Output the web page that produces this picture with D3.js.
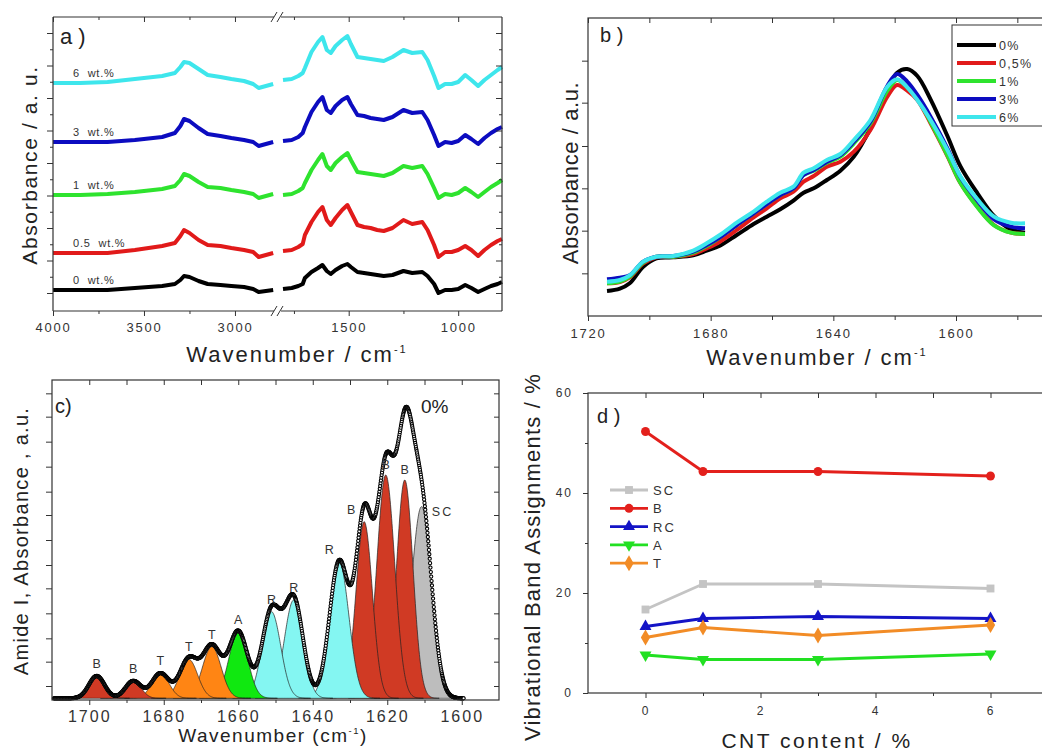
<!DOCTYPE html>
<meta charset="utf-8">
<style>
body { margin: 0; background: #fff; }
svg { display: block; }
</style>
<body>
<svg width="1042" height="754"></svg>
<script src="https://cdn.jsdelivr.net/npm/d3@7"></script>
<script>
// ---------------- data: a) full FTIR spectra (offset, arbitrary units) ----------------
var aLeftWn = [4000, 3850, 3700, 3550, 3400, 3330, 3300, 3280, 3250, 3200, 3150, 3080, 3020, 2950, 2900, 2870, 2830, 2790];
var aRightWn = [1800, 1760, 1730, 1710, 1700, 1670, 1640, 1620, 1600, 1582, 1560, 1530, 1506, 1490, 1460, 1430, 1400, 1370, 1340, 1300,
                1250, 1210, 1164, 1140, 1110, 1090, 1060, 1030, 1000, 968, 940, 909, 880, 850, 820, 800];
var aLabels = ["0  wt.%", "0.5  wt.%", "1  wt.%", "3  wt.%", "6  wt.%"];

var aLeft0 = [2.1, 2.1, 2.1, 2.3, 2.5, 2.7, 3.1, 3.5, 3.4, 3.0, 2.7, 2.6, 2.5, 2.4, 2.2, 1.9, 2.0, 2.1];
var aLeft05 = [5.8, 5.8, 5.8, 6.1, 6.5, 6.8, 7.5, 8.1, 7.8, 7.1, 6.6, 6.5, 6.3, 6.1, 5.9, 5.4, 5.6, 5.8];
var aLeft1 = [11.6, 11.6, 11.7, 11.9, 12.2, 12.5, 13.1, 13.7, 13.5, 12.9, 12.4, 12.3, 12.1, 11.9, 11.7, 11.3, 11.5, 11.7];
var aLeft3 = [16.9, 16.9, 16.9, 17.1, 17.4, 17.8, 18.5, 19.2, 19.0, 18.3, 17.7, 17.5, 17.3, 17.1, 16.9, 16.5, 16.7, 16.9];
var aLeft6 = [22.8, 22.8, 22.9, 23.2, 23.5, 23.8, 24.4, 24.9, 24.8, 24.2, 23.6, 23.4, 23.2, 23.0, 22.7, 22.3, 22.5, 22.7];

var aRight0 = [2.2, 2.3, 2.5, 2.7, 3.3, 3.9, 4.3, 4.6, 4.0, 3.7, 4.1, 4.5, 4.7, 4.4, 3.9, 3.8, 3.7, 3.6, 3.5, 3.6,
               4.0, 3.8, 3.9, 3.5, 2.7, 1.8, 2.1, 2.1, 2.2, 2.6, 2.3, 1.9, 2.2, 2.5, 2.7, 2.9];
var aRight05 = [6.0, 6.1, 6.4, 6.7, 7.6, 8.9, 9.9, 10.4, 9.1, 8.6, 9.3, 10.1, 10.6, 9.9, 8.6, 8.4, 8.3, 8.1, 8.0, 8.3,
                9.1, 8.7, 8.9, 8.1, 6.6, 5.4, 5.9, 5.9, 6.1, 6.5, 6.1, 5.5, 6.1, 6.6, 7.0, 7.2];
var aRight1 = [11.6, 11.7, 12.0, 12.3, 12.8, 14.1, 15.1, 15.7, 14.5, 14.1, 14.8, 15.4, 15.8, 15.1, 13.9, 13.8, 13.7, 13.6, 13.5, 13.8,
               14.5, 14.3, 14.5, 13.7, 12.3, 11.3, 11.7, 11.6, 11.8, 12.3, 11.9, 11.4, 11.9, 12.4, 12.8, 13.1];
var aRight3 = [17.0, 17.1, 17.4, 17.8, 18.4, 19.9, 20.9, 21.4, 20.1, 19.8, 20.5, 21.1, 21.4, 20.7, 19.6, 19.5, 19.3, 19.2, 19.1, 19.4,
               20.1, 19.8, 19.9, 19.1, 17.6, 16.5, 16.9, 16.8, 17.0, 17.6, 17.2, 16.7, 17.3, 17.8, 18.2, 18.4];
var aRight6 = [23.1, 23.2, 23.5, 23.8, 24.3, 25.9, 26.9, 27.4, 26.1, 25.8, 26.5, 27.1, 27.5, 26.7, 25.4, 25.3, 25.2, 25.1, 25.0, 25.4,
               26.1, 25.8, 25.9, 25.1, 23.5, 22.3, 22.7, 22.7, 22.9, 23.6, 23.1, 22.5, 23.1, 23.6, 24.1, 24.4];

var aXMajorL = [4000, 3500, 3000], aXMinorL = [3750, 3250];
var aXMajorR = [1500, 1000], aXMinorR = [1750, 1250];
var aYMajor = [1.8, 5.05, 8.3, 11.55, 14.8, 18.05, 21.3, 24.55, 27.8];
var aYMinor = [3.425, 6.675, 9.925, 13.175, 16.425, 19.675, 22.925, 26.175];

// ---------------- data: b) amide I region ----------------
var bWn = [1713.8, 1709.6, 1706.4, 1702.0, 1697.7, 1692.2, 1685.7, 1681.3, 1677.0, 1671.5, 1666.0, 1661.7, 1657.3, 1653.0, 1649.7, 1646.4,
           1642.1, 1637.7, 1633.3, 1627.9, 1622.4, 1619.2, 1615.9, 1612.6, 1608.3, 1602.8, 1598.5, 1593.0, 1587.6, 1582.1, 1577.5];
var bLabels = ["0%", "0,5%", "1%", "3%", "6%"];
var b0 = [0.75, 0.82, 0.98, 1.48, 1.73, 1.76, 1.82, 1.96, 2.11, 2.43, 2.76, 2.98, 3.20, 3.46, 3.70, 3.83,
          4.08, 4.36, 4.78, 5.63, 6.76, 7.30, 7.41, 7.20, 6.50, 5.40, 4.48, 3.68, 3.00, 2.60, 2.50];
var b05 = [0.98, 1.02, 1.16, 1.58, 1.76, 1.78, 1.86, 2.03, 2.23, 2.58, 2.96, 3.23, 3.53, 3.73, 4.03, 4.20,
           4.48, 4.63, 4.93, 5.58, 6.58, 6.93, 6.76, 6.48, 5.78, 4.80, 3.98, 3.28, 2.73, 2.50, 2.46];
var b1 = [0.98, 1.03, 1.18, 1.60, 1.78, 1.78, 1.90, 2.10, 2.36, 2.73, 3.08, 3.36, 3.63, 3.83, 4.23, 4.36,
          4.60, 4.78, 5.18, 5.78, 6.76, 7.08, 6.86, 6.52, 5.82, 4.82, 3.98, 3.26, 2.72, 2.50, 2.46];
var b3 = [1.10, 1.15, 1.22, 1.63, 1.78, 1.80, 1.93, 2.13, 2.36, 2.73, 3.08, 3.36, 3.63, 3.83, 4.23, 4.38,
          4.63, 4.83, 5.23, 5.83, 6.90, 7.26, 7.03, 6.63, 5.98, 5.03, 4.16, 3.46, 2.90, 2.68, 2.63];
var b6 = [1.03, 1.08, 1.22, 1.63, 1.78, 1.80, 1.96, 2.18, 2.43, 2.80, 3.13, 3.43, 3.70, 3.88, 4.30, 4.43,
          4.68, 4.86, 5.28, 5.88, 6.88, 7.10, 6.86, 6.48, 5.88, 4.98, 4.18, 3.50, 2.98, 2.80, 2.78];
var bXMajor = [1720, 1680, 1640, 1600], bXMinor = [1700, 1660, 1620, 1580];
var bYTicks = [1.28, 2.56, 3.83, 5.1, 6.4, 7.66];

// ---------------- data: c) band fit of 0% sample ----------------
var cCenters = [1698, 1688.2, 1680.9, 1673.3, 1667.1, 1660, 1651.1, 1645.1, 1632.9, 1626.2, 1620.4, 1615.3, 1610.8];
var cHeights = [0.67, 0.52, 0.75, 1.17, 1.55, 2.0, 2.6, 2.95, 4.1, 5.3, 6.7, 6.55, 5.75];
var cSigmas = [2.1, 2.1, 2.3, 2.4, 2.5, 2.5, 2.5, 2.5, 2.6, 2.2, 2.4, 2.2, 2.7];
var cBands = ["B", "B", "T", "T", "T", "A", "R", "R", "R", "B", "B", "B", "SC"];
var cXMajor = [1700, 1680, 1660, 1640, 1620, 1600], cXMinor = [1690, 1670, 1650, 1630, 1610];
var cYTicks = [0.37, 1.1, 1.8, 2.55, 3.3, 4.0, 4.75, 5.5, 6.2, 6.95, 7.7, 8.45, 9.15];

// ---------------- data: d) band assignments vs CNT content ----------------
var dX = [0, 1, 3, 6];
var dNames = ["SC", "B", "RC", "A", "T"];
var dSC = [16.7, 21.8, 21.8, 20.9];
var dB = [52.3, 44.3, 44.3, 43.4];
var dRC = [13.3, 14.9, 15.3, 14.9];
var dA = [7.6, 6.7, 6.7, 7.8];
var dT = [11.1, 13.1, 11.5, 13.6];
var dXMajor = [0, 2, 4, 6], dXMinor = [1, 3, 5];
var dYMajor = [0, 20, 40, 60], dYMinor = [10, 30, 50];

// ---------------- styles ----------------
var FONT = "'Liberation Sans', Arial, Helvetica, sans-serif";
var specColors = ["#000000", "#e11a1a", "#2ee32e", "#0c0cc0", "#3ee6ec"];
var bandColors = { B: "#d03a24", T: "#ff8514", A: "#10e810", R: "#84f6f2", SC: "#bdbdbd" };
var dColors = ["#c4c4c4", "#e3201c", "#1414c6", "#22e022", "#f28c26"];
var dSymbols = [d3.symbolSquare, d3.symbolCircle, d3.symbolTriangle, d3.symbolTriangle, d3.symbolDiamond];

var svg = d3.select("svg");
svg.append("rect").attr("width", 1042).attr("height", 754).attr("fill", "#fff");

function drawAxis(gen, scale, vals, len, fmt, tx, ty, fs, ls, pad) {
  var a = gen(scale).tickValues(vals).tickSizeInner(len).tickSizeOuter(0)
    .tickPadding(pad || 3).tickFormat(fmt || function() { return ""; });
  var g = svg.append("g").attr("transform", "translate(" + tx + "," + ty + ")").call(a);
  g.select(".domain").remove();
  g.selectAll(".tick line").attr("stroke", "#333").attr("stroke-width", 1);
  g.selectAll(".tick text").attr("fill", "#333").attr("font-family", FONT)
    .attr("font-size", fs || 12).attr("letter-spacing", ls || 0);
  return g;
}

function text(x, y, s, size, opts) {
  opts = opts || {};
  var t = svg.append("text").attr("x", x).attr("y", y).text(s)
    .attr("font-family", FONT).attr("font-size", size)
    .attr("fill", opts.fill || "#222")
    .attr("letter-spacing", opts.ls || 0)
    .attr("text-anchor", opts.anchor || "start")
    .style("white-space", "pre");
  if (opts.rotate) t.attr("transform", "rotate(-90," + x + "," + y + ")");
  return t;
}

function titleSup(x, y, main, sup, tail, size, ls) {
  var t = svg.append("text").attr("x", x).attr("y", y)
    .attr("font-family", FONT).attr("font-size", size).attr("fill", "#222")
    .attr("letter-spacing", ls).attr("text-anchor", "middle");
  t.append("tspan").text(main);
  t.append("tspan").text(sup).attr("font-size", size * 0.5).attr("dy", -size * 0.42);
  if (tail) t.append("tspan").text(tail).attr("dy", size * 0.42);
  return t;
}

// ====================== panel a ======================
var axL = d3.scaleLinear().domain([4000, 2780]).range([53, 275]);
var axR = d3.scaleLinear().domain([1800, 800]).range([283, 502]);
var ay = d3.scaleLinear().domain([0, 29.4]).range([311, 17]);

var aLeft = [aLeft0, aLeft05, aLeft1, aLeft3, aLeft6];
var aRight = [aRight0, aRight05, aRight1, aRight3, aRight6];

aLeft.forEach(function(vals, i) {
  var lineL = d3.line().x(function(d, k) { return axL(aLeftWn[k]); }).y(function(d) { return ay(d); });
  var lineR = d3.line().x(function(d, k) { return axR(aRightWn[k]); }).y(function(d) { return ay(d); });
  svg.append("path").attr("d", lineL(vals)).attr("fill", "none").attr("stroke", specColors[i])
    .attr("stroke-width", 4).attr("stroke-linejoin", "round");
  svg.append("path").attr("d", lineR(aRight[i])).attr("fill", "none").attr("stroke", specColors[i])
    .attr("stroke-width", 4).attr("stroke-linejoin", "round");
  text(73, ay(vals[0]) - 6, aLabels[i], 11, { fill: "#333", ls: 0.8 });
});

svg.append("path").attr("d", "M53,17V311M502,17V311M53,17H502M53,311H502")
  .attr("fill", "none").attr("stroke", "#333").attr("stroke-width", 1.2);
[17, 311].forEach(function(yy) {
  svg.append("rect").attr("x", 274).attr("y", yy - 3).attr("width", 7).attr("height", 6).attr("fill", "#fff");
  [274, 280].forEach(function(xx) {
    svg.append("line").attr("x1", xx - 3).attr("y1", yy + 5).attr("x2", xx + 3).attr("y2", yy - 5)
      .attr("stroke", "#333").attr("stroke-width", 1);
  });
});
drawAxis(d3.axisBottom, axL, aXMajorL, 5, d3.format("d"), 0, 311, 13, 1.8, 7);
drawAxis(d3.axisBottom, axR, aXMajorR, 5, d3.format("d"), 0, 311, 13, 1.8, 7);
drawAxis(d3.axisBottom, axL, aXMinorL, 3, null, 0, 311);
drawAxis(d3.axisBottom, axR, aXMinorR, 3, null, 0, 311);
drawAxis(d3.axisTop, axL, aXMajorL, -5, null, 0, 17);
drawAxis(d3.axisTop, axR, aXMajorR, -5, null, 0, 17);
drawAxis(d3.axisTop, axL, aXMinorL, -3, null, 0, 17);
drawAxis(d3.axisTop, axR, aXMinorR, -3, null, 0, 17);
drawAxis(d3.axisLeft, ay, aYMajor, 6, null, 53, 0);
drawAxis(d3.axisLeft, ay, aYMinor, 3, null, 53, 0);
drawAxis(d3.axisRight, ay, aYMajor, -6, null, 502, 0);
drawAxis(d3.axisRight, ay, aYMinor, -3, null, 502, 0);

text(60, 44, "a )", 22, { ls: 0 });
titleSup(297, 362, "Wavenumber / cm", "-1", null, 22, 2);
text(37, 165, "Absorbance / a. u.", 21, { anchor: "middle", rotate: true, ls: 1.6 });

// ====================== panel b ======================
var bx = d3.scaleLinear().domain([1720, 1570]).range([588, 1048]);
var by = d3.scaleLinear().domain([0, 8.94]).range([316, 18]);
var bSeries = [b0, b05, b1, b3, b6];
var bLine = d3.line().curve(d3.curveCatmullRom)
  .x(function(d, k) { return bx(bWn[k]); }).y(function(d) { return by(d); });
bSeries.forEach(function(vals, i) {
  svg.append("path").attr("d", bLine(vals)).attr("fill", "none").attr("stroke", specColors[i])
    .attr("stroke-width", 4).attr("stroke-linejoin", "round");
});
svg.append("rect").attr("x", 588).attr("y", 18).attr("width", 460).attr("height", 298)
  .attr("fill", "none").attr("stroke", "#333").attr("stroke-width", 1.2);
drawAxis(d3.axisBottom, bx, bXMajor, 5, d3.format("d"), 0, 316, 13, 1.8, 8);
drawAxis(d3.axisBottom, bx, bXMinor, 4, null, 0, 316);
drawAxis(d3.axisTop, bx, bXMajor.concat(bXMinor), -5, null, 0, 18);
drawAxis(d3.axisLeft, by, bYTicks, 6, null, 588, 0);

// legend
svg.append("rect").attr("x", 952).attr("y", 25).attr("width", 100).attr("height", 101)
  .attr("fill", "#fff").attr("stroke", "#333").attr("stroke-width", 1);
bLabels.forEach(function(s, i) {
  var yy = 45 + i * 18;
  svg.append("line").attr("x1", 957).attr("x2", 996).attr("y1", yy).attr("y2", yy)
    .attr("stroke", specColors[i]).attr("stroke-width", 4);
  text(999, yy + 5, s, 12.5, { fill: "#333", ls: 1.2 });
});

text(600, 42, "b )", 20);
titleSup(817, 365, "Wavenumber / cm", "-1", null, 22, 2);
text(578, 173, "Absorbance / a.u.", 22, { anchor: "middle", rotate: true, ls: 0.6 });

// ====================== panel c ======================
var cx = d3.scaleLinear().domain([1710, 1590]).range([52, 499]);
var cy = d3.scaleLinear().domain([-0.05, 9.55]).range([700, 380]);

function gauss(k, w) {
  var z = (w - cCenters[k]) / cSigmas[k];
  return cHeights[k] * Math.exp(-0.5 * z * z);
}
var cArea = d3.area().x(function(d) { return cx(d[0]); }).y0(cy(0)).y1(function(d) { return cy(d[1]); });
// draw right-most band first so the left neighbours lie on top
for (var k = cCenters.length - 1; k >= 0; k--) {
  var pts = d3.range(cCenters[k] - 4.2 * cSigmas[k], cCenters[k] + 4.2 * cSigmas[k], 0.1)
    .map(function(w) { return [w, gauss(k, w)]; });
  svg.append("path").attr("d", cArea(pts)).attr("fill", bandColors[cBands[k]])
    .attr("stroke", "#222").attr("stroke-width", 0.7);
}
// envelope of the fit (measured spectrum), open circles
var env = d3.range(1709.5, 1599.4, -0.1).map(function(w) {
  return [w, d3.sum(cCenters, function(c, k) { return gauss(k, w); })];
});
svg.append("g").selectAll("circle").data(env).join("circle")
  .attr("cx", function(d) { return cx(d[0]); }).attr("cy", function(d) { return cy(d[1]); })
  .attr("r", 1.6).attr("fill", "#fff").attr("stroke", "#000").attr("stroke-width", 1.1);

cBands.forEach(function(s, k) {
  var dxp = 0, dyp = -8;
  if (k === 8) dxp = -10;
  if (k === 9) dxp = -13;
  if (k >= 10 && k <= 11) dyp = -6;
  if (k === 12) { dxp = 21; dyp = 9; }
  text(cx(cCenters[k]) + dxp, cy(cHeights[k]) + dyp, s, 12.5, { anchor: "middle", fill: "#333", ls: s === "SC" ? 2 : 0 });
});

svg.append("rect").attr("x", 52).attr("y", 380).attr("width", 447).attr("height", 320)
  .attr("fill", "none").attr("stroke", "#333").attr("stroke-width", 1.2);
drawAxis(d3.axisBottom, cx, cXMajor, 5, d3.format("d"), 0, 700, 16, 2, 6);
drawAxis(d3.axisBottom, cx, cXMinor, 3, null, 0, 700);
drawAxis(d3.axisTop, cx, cXMajor.concat(cXMinor), -5, null, 0, 380);
drawAxis(d3.axisLeft, cy, cYTicks, 6, null, 52, 0);
drawAxis(d3.axisRight, cy, cYTicks, -5, null, 499, 0);

text(55, 413, "c)", 20);
text(421, 413, "0%", 19);
titleSup(273, 742, "Wavenumber (cm", "-1", ")", 19, 1.5);
text(28, 541, "Amide I, Absorbance , a.u.", 20, { anchor: "middle", rotate: true, ls: 1.3 });

// ====================== panel d ======================
var dx = d3.scaleLinear().domain([-1, 7]).range([588, 1048]);
var dy = d3.scaleLinear().domain([0, 60]).range([693, 393]);
var dSeries = [dSC, dB, dRC, dA, dT];
var dLine = d3.line().x(function(d, k) { return dx(dX[k]); }).y(function(d) { return dy(d); });

function marker(i, x, y) {
  var sym = d3.symbol().type(dSymbols[i]).size(i === 4 ? 75 : 62);
  svg.append("path").attr("d", sym()).attr("fill", dColors[i])
    .attr("transform", "translate(" + x + "," + y + ")" + (i === 3 ? " rotate(180)" : ""));
}
dSeries.forEach(function(vals, i) {
  svg.append("path").attr("d", dLine(vals)).attr("fill", "none").attr("stroke", dColors[i])
    .attr("stroke-width", 2.8).attr("stroke-linejoin", "round");
  vals.forEach(function(v, k) { marker(i, dx(dX[k]), dy(v)); });
});
svg.append("rect").attr("x", 588).attr("y", 393).attr("width", 460).attr("height", 300)
  .attr("fill", "none").attr("stroke", "#333").attr("stroke-width", 1.2);
drawAxis(d3.axisBottom, dx, dXMajor, 5, d3.format("d"), 0, 693, 12, 2, 8);
drawAxis(d3.axisBottom, dx, dXMinor, 3, null, 0, 693);
drawAxis(d3.axisTop, dx, dXMajor.concat(dXMinor), -5, null, 0, 393);
drawAxis(d3.axisLeft, dy, dYMajor, 5, d3.format("d"), 588, 0, 12, 2, 10);
drawAxis(d3.axisLeft, dy, dYMinor, 3, null, 588, 0);

dNames.forEach(function(s, i) {
  var yy = 490 + i * 18.3;
  svg.append("line").attr("x1", 610).attr("x2", 648).attr("y1", yy).attr("y2", yy)
    .attr("stroke", dColors[i]).attr("stroke-width", 2.8);
  marker(i, 629, yy);
  text(653, yy + 5, s, 13, { fill: "#333", ls: 2 });
});

text(597, 423, "d )", 20);
text(817, 748, "CNT content / %", 21, { anchor: "middle", ls: 2.5 });
text(540, 557, "Vibrational Band Assignments / %", 22, { anchor: "middle", rotate: true, ls: 1.2 });
</script>
</body>
